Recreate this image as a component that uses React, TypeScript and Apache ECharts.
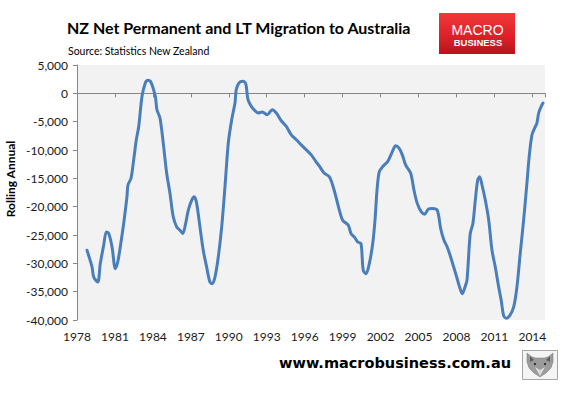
import React, { useEffect, useRef } from "react";
import * as echarts from "echarts";

const years = [
  1978.79, 1979.19, 1979.32, 1979.64, 1979.84, 1980.11, 1980.32, 1980.51, 1980.77, 1981.03,
  1981.22, 1981.42, 1981.69, 1981.95, 1982.03, 1982.27, 1982.48, 1982.69, 1982.88, 1983.14,
  1983.4, 1983.61, 1983.85, 1984.19, 1984.32, 1984.56, 1984.82, 1985.09, 1985.35, 1985.61,
  1985.88, 1986.14, 1986.36, 1986.59, 1986.8, 1987.07, 1987.27, 1987.46, 1987.72, 1987.98,
  1988.25, 1988.51, 1988.7, 1988.91, 1989.17, 1989.44, 1989.7, 1989.96, 1990.23, 1990.49,
  1990.59, 1990.81, 1991.12, 1991.34, 1991.52, 1991.78, 1992.05, 1992.31, 1992.65, 1993.04,
  1993.44, 1993.76, 1994.15, 1994.55, 1994.94, 1995.34, 1995.73, 1996.13, 1996.52, 1996.89,
  1997.15, 1997.55, 1997.94, 1998.21, 1998.47, 1998.74, 1999.0, 1999.45, 1999.66, 1999.92,
  2000.19, 2000.45, 2000.63, 2000.85, 2001.11, 2001.38, 2001.56, 2001.72, 2001.9, 2002.17,
  2002.56, 2002.82, 2002.93, 2003.19, 2003.46, 2003.72, 2003.98, 2004.38, 2004.64, 2004.9,
  2005.22, 2005.49, 2005.77, 2006.09, 2006.48, 2006.75, 2007.01, 2007.27, 2007.54, 2007.94,
  2008.25, 2008.46, 2008.67, 2008.83, 2009.09, 2009.3, 2009.49, 2009.68, 2009.83, 2010.02,
  2010.28, 2010.55, 2010.81, 2011.07, 2011.34, 2011.54, 2011.73, 2011.94, 2012.21, 2012.52,
  2012.78, 2013.04, 2013.31, 2013.57, 2013.75, 2013.97, 2014.18, 2014.36, 2014.5, 2014.68,
  2014.84,
];

// Net permanent and long-term migration NZ -> Australia, rolling annual
const migration = [
  -27700, -30650, -32420, -33310, -30060, -26810, -24450, -24740, -27110, -30940,
  -29770, -27110, -22970, -18250, -16180, -14990, -11750, -8200, -5850, -530,
  1840, 2300, 1950, -530, -2890, -4360, -8790, -14100, -17650, -21790,
  -23570, -24150, -24740, -22970, -20610, -18840, -18250, -19420, -23570, -27700,
  -30650, -33310, -33600, -32420, -28880, -23570, -16480, -8790, -4660, -1700,
  660, 1840, 2130, 1720, -1120, -2300, -3010, -3470, -3300, -3770,
  -2890, -3470, -4840, -5850, -7320, -8200, -9090, -9980, -10860, -12050,
  -12810, -14100, -14710, -16180, -18250, -20610, -22380, -23270, -24740, -25340,
  -26230, -26510, -31240, -31830, -30060, -26510, -22380, -17060, -13820, -12940,
  -12050, -10860, -10280, -9270, -9680, -10860, -12630, -14100, -17060, -19420,
  -20910, -21320, -20430, -20310, -20610, -23850, -25920, -27110, -28880, -31830,
  -34200, -35370, -34200, -33010, -24740, -22970, -18840, -15290, -14710, -16180,
  -18840, -22380, -27700, -30650, -34200, -36560, -39220, -39690, -39220, -37740,
  -34200, -28280, -22380, -15880, -11160, -7320, -6130, -5250, -3470, -2410,
  -1700,
];

const xMin = 1978;
const xMax = 2015;
const xStep = 3;
const yMin = -40000;
const yMax = 5000;
const yStep = 5000;

const titleText = "NZ Net Permanent and LT Migration to Australia";
const sourceText = "Source: Statistics New Zealand";
const yAxisTitle = "Rolling Annual";
const siteText = "www.macrobusiness.com.au";

export default function App() {
  const ref = useRef<HTMLDivElement>(null);

  useEffect(() => {
    if (!ref.current) return;
    const chart = echarts.init(ref.current, undefined, { renderer: "svg" });
    const data = years.map((y, i) => [y, migration[i]]);
    const labelFont = "Lato, 'Open Sans', sans-serif";

    chart.setOption({
      animation: false,
      backgroundColor: "#ffffff",
      grid: {
        left: 77,
        right: 20,
        top: 65,
        bottom: 76,
        show: true,
        backgroundColor: "#f2f2f2",
        borderWidth: 0,
      },
      xAxis: [
        {
          type: "value",
          min: xMin,
          max: xMax,
          interval: xStep,
          position: "bottom",
          axisLine: { show: true, onZero: true, lineStyle: { color: "#868686", width: 1 } },
          axisTick: { show: true, inside: false, length: 4, lineStyle: { color: "#868686" } },
          axisLabel: { show: false },
          splitLine: { show: false },
        },
        {
          type: "value",
          min: xMin,
          max: xMax,
          interval: xStep,
          position: "bottom",
          axisLine: { show: false, onZero: false },
          axisTick: { show: false },
          splitLine: { show: false },
          axisLabel: {
            show: true,
            margin: 10,
            showMaxLabel: false,
            color: "#1a1a1a",
            fontFamily: labelFont,
            fontSize: 12,
            formatter: (v: number) => String(Math.round(v)),
          },
        },
      ],
      yAxis: {
        type: "value",
        min: yMin,
        max: yMax,
        interval: yStep,
        axisLine: { show: true, onZero: false, lineStyle: { color: "#868686", width: 1 } },
        axisTick: { show: true, inside: false, length: 4, lineStyle: { color: "#868686" } },
        splitLine: { show: false },
        axisLabel: {
          margin: 9,
          color: "#1a1a1a",
          fontFamily: labelFont,
          fontSize: 12,
          formatter: (v: number) => v.toLocaleString("en-US"),
        },
      },
      series: [
        {
          type: "line",
          xAxisIndex: 0,
          yAxisIndex: 0,
          data,
          showSymbol: false,
          smooth: 0.3,
          lineStyle: { color: "#4a7ebb", width: 3, join: "round", cap: "round" },
        },
      ],
      graphic: [
        {
          type: "text",
          x: 67,
          y: 27,
          style: {
            text: titleText,
            font: "bold 16px Lato, sans-serif",
            fill: "#000000",
            textVerticalAlign: "middle",
          },
        },
        {
          type: "text",
          x: 68,
          y: 51,
          style: {
            text: sourceText,
            font: "10.5px Lato, sans-serif",
            fill: "#000000",
            textVerticalAlign: "middle",
          },
        },
        {
          type: "text",
          x: 10,
          y: 179,
          rotation: Math.PI / 2,
          style: {
            text: yAxisTitle,
            font: "bold 12px Lato, sans-serif",
            fill: "#000000",
            textAlign: "center",
            textVerticalAlign: "middle",
          },
        },
        {
          type: "rect",
          shape: { x: 439, y: 13, width: 76, height: 41 },
          style: {
            fill: new echarts.graphic.LinearGradient(0, 0, 0, 1, [
              { offset: 0, color: "#f0383a" },
              { offset: 0.5, color: "#e0242a" },
              { offset: 1, color: "#b8141c" },
            ]),
          },
        },
        {
          type: "text",
          x: 477.5,
          y: 30,
          style: {
            text: "MACRO",
            font: "14px 'Liberation Sans', Arial, sans-serif",
            fill: "#ffffff",
            textAlign: "center",
            textVerticalAlign: "middle",
          },
        },
        {
          type: "text",
          x: 478,
          y: 42.5,
          style: {
            text: "BUSINESS",
            font: "bold 9.5px 'Liberation Sans', Arial, sans-serif",
            fill: "#ffffff",
            textAlign: "center",
            textVerticalAlign: "middle",
          },
        },
        {
          type: "text",
          x: 511,
          y: 363,
          style: {
            text: siteText,
            font: "bold 14.5px 'DejaVu Sans', Verdana, sans-serif",
            fill: "#000000",
            textAlign: "right",
            textVerticalAlign: "middle",
          },
        },
        {
          type: "rect",
          shape: { x: 522.5, y: 350.5, width: 35, height: 29 },
          style: { fill: "#f4f4f4", stroke: "#a6a6a6", lineWidth: 1 },
        },
        {
          type: "polygon",
          shape: {
            points: [
              [527, 353], [532, 357], [536, 358], [544, 358], [548, 357], [553, 353],
              [553, 362], [551, 368], [546, 373], [540, 377], [534, 373], [529, 368], [527, 362],
            ],
          },
          style: { fill: "#9b9b9b", stroke: "#7a7a7a", lineWidth: 0.5 },
        },
        {
          type: "polygon",
          shape: { points: [[530, 356], [534, 360], [530, 362]] },
          style: { fill: "#5e5e5e" },
        },
        {
          type: "polygon",
          shape: { points: [[550, 356], [546, 360], [550, 362]] },
          style: { fill: "#5e5e5e" },
        },
        {
          type: "polygon",
          shape: { points: [[535, 367], [540, 376], [545, 367], [540, 370]] },
          style: { fill: "#dcdcdc" },
        },
        {
          type: "circle",
          shape: { cx: 535, cy: 364, r: 1.2 },
          style: { fill: "#333333" },
        },
        {
          type: "circle",
          shape: { cx: 545, cy: 364, r: 1.2 },
          style: { fill: "#333333" },
        },
      ],
    });

    return () => {
      chart.dispose();
    };
  }, []);

  return (
    <div
      ref={ref}
      style={{ position: "fixed", left: 0, top: 0, width: 565, height: 396 }}
    />
  );
}
